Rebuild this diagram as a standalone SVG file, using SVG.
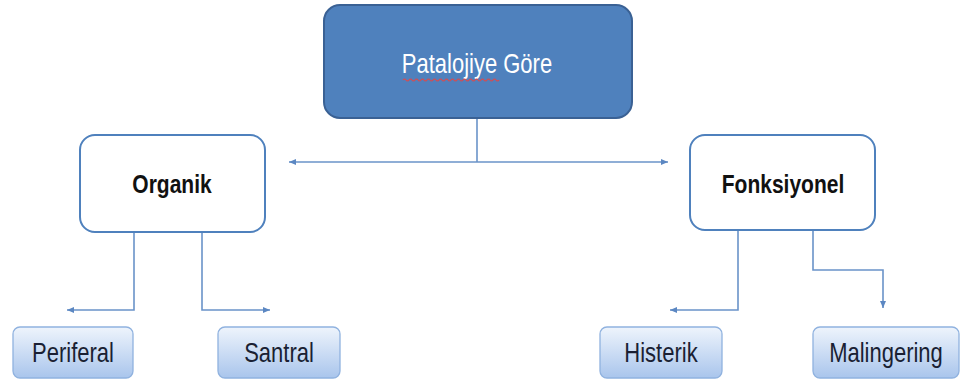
<svg xmlns="http://www.w3.org/2000/svg" width="964" height="385" viewBox="0 0 964 385">
<defs>
<linearGradient id="lg" x1="0" y1="0" x2="0" y2="1">
<stop offset="0" stop-color="#eef4fc"/>
<stop offset="1" stop-color="#a9c5ec"/>
</linearGradient>
<marker id="ah" markerWidth="8" markerHeight="8" refX="7" refY="4" orient="auto" markerUnits="userSpaceOnUse">
<path d="M0,1 L7,4 L0,7 Z" fill="#5b87c2"/>
</marker>
<style>
.conn{fill:none;stroke:#6a93c9;stroke-width:1.6}
.top{fill:#4f81bd;stroke:#3a6194;stroke-width:2}
.mid{fill:#ffffff;stroke:#4f81bd;stroke-width:2}
.leaf{fill:url(#lg);stroke:#90b2df;stroke-width:1.3}
.t{font-family:"Liberation Sans",Arial,sans-serif;text-anchor:middle}
.tt{font-size:22px;fill:#ffffff}
.tm{font-size:21px;font-weight:bold;fill:#111111}
.tl{font-size:22px;fill:#1a1f33}
</style>
</defs>
<rect width="964" height="385" fill="#ffffff"/>
<g id="connectors">
<path class="conn" d="M477,118 V162"/>
<path class="conn" d="M477,162 H289" marker-end="url(#ah)"/>
<path class="conn" d="M477,162 H668" marker-end="url(#ah)"/>
<path class="conn" d="M134,232 V310 H67" marker-end="url(#ah)"/>
<path class="conn" d="M202,232 V310 H270" marker-end="url(#ah)"/>
<path class="conn" d="M738,230 V310 H670" marker-end="url(#ah)"/>
<path class="conn" d="M813,230 V270 H883 V308" marker-end="url(#ah)"/>
</g>
<g id="patalojiye">
<rect class="top" x="324" y="5" width="308" height="113" rx="16"/>
<text class="t tt" transform="translate(477,73) scale(1,1.22)">Patalojiye Göre</text>
<path d="M403,80 q1.5,-2 3,0 t3,0 t3,0 t3,0 t3,0 t3,0 t3,0 t3,0 t3,0 t3,0 t3,0 t3,0 t3,0 t3,0 t3,0 t3,0 t3,0 t3,0 t3,0 t3,0 t3,0 t3,0 t3,0 t3,0 t3,0 t3,0 t3,0 t3,0 t3,0 t3,0 t3,0 t3,0" fill="none" stroke="#e04848" stroke-width="1.1"/>
</g>
<g id="organik">
<rect class="mid" x="80" y="135" width="185" height="97" rx="15"/>
<text class="t tm" transform="translate(172,193) scale(1,1.25)">Organik</text>
</g>
<g id="fonksiyonel">
<rect class="mid" x="690" y="135" width="185" height="95" rx="15"/>
<text class="t tm" transform="translate(783,193) scale(1,1.25)">Fonksiyonel</text>
</g>
<g id="periferal">
<rect class="leaf" x="13" y="327" width="120" height="51" rx="7"/>
<text class="t tl" transform="translate(73,362) scale(1,1.22)">Periferal</text>
</g>
<g id="santral">
<rect class="leaf" x="218" y="327" width="122" height="51" rx="7"/>
<text class="t tl" transform="translate(279,362) scale(1,1.22)">Santral</text>
</g>
<g id="histerik">
<rect class="leaf" x="600" y="327" width="122" height="51" rx="7"/>
<text class="t tl" transform="translate(661,362) scale(1,1.22)">Histerik</text>
</g>
<g id="malingering">
<rect class="leaf" x="813" y="327" width="146" height="51" rx="7"/>
<text class="t tl" transform="translate(886,362) scale(1,1.22)">Malingering</text>
</g>
</svg>
